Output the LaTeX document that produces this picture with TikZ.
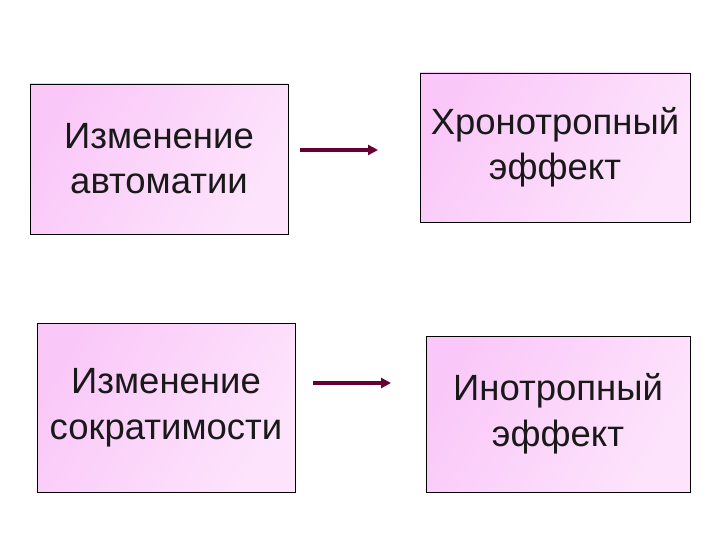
\documentclass[tikz,border=0pt]{standalone}
\usepackage{fontspec}
\setmainfont{Liberation Sans}
\usetikzlibrary{arrows.meta}
\definecolor{boxpink}{RGB}{250,200,248}
\definecolor{boxlight}{RGB}{253,228,252}
\definecolor{arrowred}{RGB}{102,0,51}
\tikzset{
  box/.style={draw=black, line width=0.8pt, inner sep=0pt, align=center,
    left color=boxpink, right color=boxlight, shading angle=60,
    text=black!90, font=\fontsize{36.5}{45}\selectfont},
  conn/.style={draw=arrowred, line width=3.2pt, -{Triangle[length=10pt,width=10pt]}}
}
\begin{document}
\begin{tikzpicture}[x=1pt,y=-1pt]
\useasboundingbox (0,0) rectangle (720,540);
\node[box, minimum width=258pt, minimum height=150pt] (a) at (159,159) {Изменение\\автоматии};
\node[box, minimum width=270pt, minimum height=149pt] (b) at (555,147.5) {Хронотропный\\эффект};
\node[box, minimum width=258pt, minimum height=169pt, font=\fontsize{36.5}{46}\selectfont] (c) at (166,407.5) {Изменение\\сократимости};
\node[box, minimum width=264pt, minimum height=156pt, font=\fontsize{36.5}{46}\selectfont] (d) at (558,414) {Инотропный\\эффект};
\coordinate (a1) at (300,150);
\coordinate (b1) at (378,150);
\coordinate (c1) at (313,383);
\coordinate (d1) at (391,383);
\draw[conn] (a1) -- (b1);
\draw[conn] (c1) -- (d1);
\end{tikzpicture}
\end{document}
